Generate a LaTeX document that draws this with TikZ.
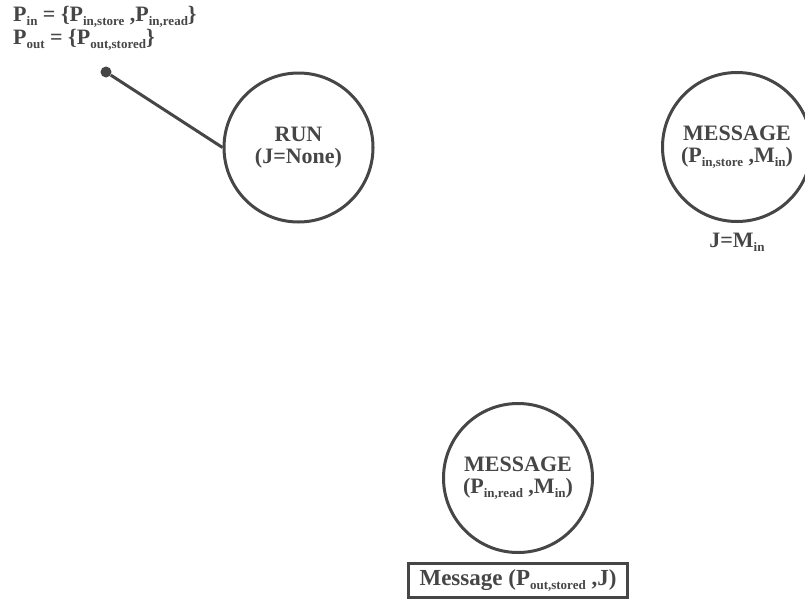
\documentclass[tikz,border=0pt]{standalone}
\usepackage{fontspec}
\setmainfont{Liberation Serif}
\usetikzlibrary{positioning}
\definecolor{ink}{RGB}{70,70,70}
\newcommand{\lowsub}[1]{\raisebox{-4pt}{\fontsize{13}{13}\selectfont #1}}
\tikzset{
    state/.style={circle, draw=ink, line width=3pt, minimum size=149pt, inner sep=0pt, align=center, text=ink, font=\fontsize{22}{22}\selectfont\bfseries},
    label text/.style={text=ink, font=\fontsize{22}{16}\selectfont\bfseries},
    msgbox/.style={rectangle, draw=ink, line width=3pt, minimum height=34pt, inner xsep=11pt, text=ink, font=\fontsize{23}{23}\selectfont\bfseries},
    pin dot/.style={circle, fill=ink, minimum size=11pt, inner sep=0pt},
}

\begin{document}
\begin{tikzpicture}[x=1pt, y=-1pt]
        \useasboundingbox (0,0) rectangle (805,600);
        \node[state] (run) at (298.5,147.5) {RUN\\[0pt](J=None)};
        \node[state] (msgstore) at (737,147) {MESSAGE\\[0pt](P\lowsub{in,store} ,M\lowsub{in})};
        \node[label text, below=7pt of msgstore] (jset) {J=M\lowsub{in}};
        \node[state] (msgread) at (518,478) {MESSAGE\\[0pt](P\lowsub{in,read} ,M\lowsub{in})};
        \node[msgbox, below=8pt of msgread] (send) {Message (P\lowsub{out,stored} ,J)};
        \node[label text, anchor=base west, align=left, inner sep=0pt] (ports) at (13,44) {P\lowsub{in} = \{P\lowsub{in,store} ,P\lowsub{in,read}\}\\P\lowsub{out} = \{P\lowsub{out,stored}\}};
        \node[pin dot] (pin) at (106,72) {};
        \draw[ink, line width=3pt] (pin) -- (run.west);
\end{tikzpicture}
\end{document}
